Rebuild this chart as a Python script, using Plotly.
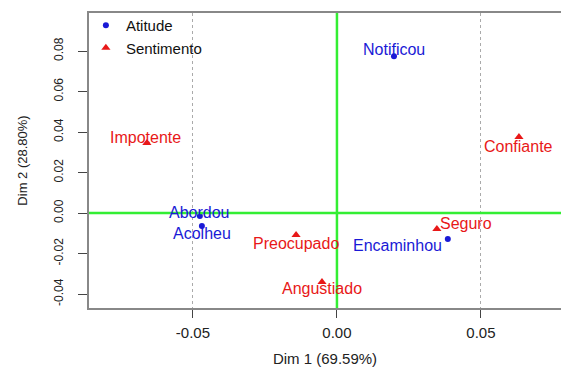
import plotly.graph_objects as go

# Data
atitude_labels = ["Notificou", "Abordou", "Acolheu", "Encaminhou"]
atitude_x = [0.0198, -0.0476, -0.0469, 0.0385]
atitude_y = [0.0775, -0.0015, -0.0064, -0.0128]

sent_labels = ["Confiante", "Impotente", "Preocupado", "Angustiado", "Seguro"]
sent_x = [0.0632, -0.0660, -0.0142, -0.0052, 0.0347]
sent_y = [0.0375, 0.0346, -0.0109, -0.0340, -0.0079]

x_ticks = [-0.05, 0.0, 0.05]
x_ticklabels = ["-0.05", "0.00", "0.05"]
y_ticks = [-0.04, -0.02, 0.0, 0.02, 0.04, 0.06, 0.08]
y_ticklabels = ["-0.04", "-0.02", "0.00", "0.02", "0.04", "0.06", "0.08"]

# label offsets (pixels) per label
atitude_shift = {"Notificou": (0, 7), "Abordou": (0, 4), "Acolheu": (0, -7), "Encaminhou": (-50, -7)}
sent_shift = {"Confiante": (0, -9), "Impotente": (-1, 5), "Preocupado": (0, -8),
              "Angustiado": (0, -7), "Seguro": (29, 6)}

BLUE = "#1a1ad6"
RED = "#e81818"
FONT = "Liberation Sans, Arial, sans-serif"

fig = go.Figure()
fig.add_trace(go.Scatter(x=atitude_x, y=atitude_y, mode="markers", name="Atitude",
                         marker=dict(symbol="circle", size=6, color=BLUE)))
fig.add_trace(go.Scatter(x=sent_x, y=sent_y, mode="markers", name="Sentimento",
                         marker=dict(symbol="triangle-up", size=8, color=RED)))

for lab, x, y in zip(atitude_labels, atitude_x, atitude_y):
    dx, dy = atitude_shift[lab]
    fig.add_annotation(x=x, y=y, text=lab, showarrow=False, xshift=dx, yshift=dy,
                       font=dict(color=BLUE, size=16, family=FONT))
for lab, x, y in zip(sent_labels, sent_x, sent_y):
    dx, dy = sent_shift[lab]
    fig.add_annotation(x=x, y=y, text=lab, showarrow=False, xshift=dx, yshift=dy,
                       font=dict(color=RED, size=16, family=FONT))

# reference lines
fig.add_hline(y=0, line=dict(color="#33ee33", width=2.5))
fig.add_vline(x=0, line=dict(color="#33ee33", width=2.5))

fig.update_layout(
    width=561, height=367,
    margin=dict(l=89, r=0, t=13, b=59, autoexpand=False),
    paper_bgcolor="white", plot_bgcolor="white",
    font=dict(family=FONT, size=12, color="#222222"),
    legend=dict(x=-0.0066, y=1.0136, xanchor="left", yanchor="top",
                bgcolor="rgba(0,0,0,0)", font=dict(size=15, color="#111111"),
                itemsizing="trace", tracegroupgap=0),
    showlegend=True,
    xaxis=dict(range=[-0.0861, 0.0778], tickvals=x_ticks, ticktext=x_ticklabels,
               automargin=False,
               showgrid=True, gridcolor="#aaaaaa", griddash="dot", gridwidth=1,
               zeroline=False, showline=True, linecolor="#888888", linewidth=2,
               mirror=True, ticks="outside", ticklen=8, tickcolor="#444444",
               ticklabelstandoff=2,
               tickfont=dict(size=15, color="#222222"),
               title=dict(text="Dim 1 (69.59%)", font=dict(size=15, color="#222222"), standoff=18)),
    yaxis=dict(range=[-0.0469, 0.0988], tickvals=y_ticks, ticktext=y_ticklabels,
               automargin=False,
               showgrid=False, zeroline=False, showline=True, linecolor="#888888",
               linewidth=2, ticks="outside", ticklen=9, tickcolor="#444444",
               ticklabelstandoff=10,
               tickangle=-90, tickfont=dict(size=12, color="#222222"),
               title=dict(text="Dim 2 (28.80%)", font=dict(size=13, color="#222222"), standoff=22)),
)

fig.write_html("out.html")
